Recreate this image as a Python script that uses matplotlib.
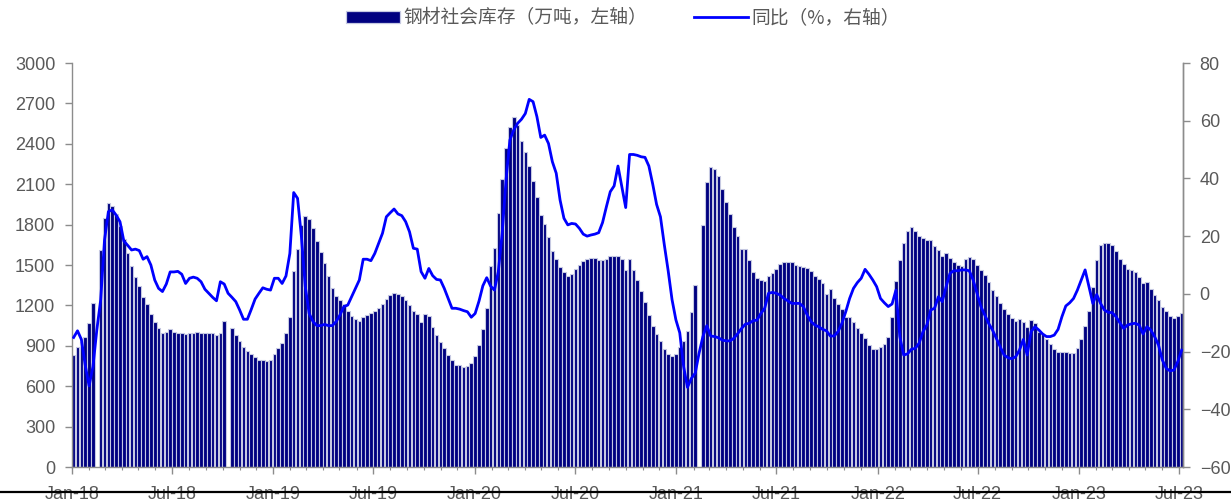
import matplotlib
matplotlib.use("Agg")
import matplotlib.pyplot as plt
import matplotlib.dates as mdates
from matplotlib.patches import Rectangle
from matplotlib.lines import Line2D
import numpy as np
import pandas as pd

# ---------------- data (weekly, None = no release that week) ----------------
start_date = "2018-01-04"

inv_2018 = [832, 889, 930, 968, 1072, 1215, None, 1611, 1846, 1958,
            1940, 1880, 1790, 1690, 1591, 1495, 1413, 1344, 1265, 1208,
            1134, 1074, 1035, 997, 1005, 1022, 1005, 997, 997, 985,
            997, 997, 1005, 997, 992, 997, 997, 980, 997, 1082,
            None, 1030, 978, 936, 889, 861, 839, 819, 794, 794,
            787, 794]
inv_2019 = [837, 881, 923, 992, 1116, 1458, 1616, 1797, 1864, 1844,
            1777, 1678, 1596, 1512, 1418, 1329, 1270, 1240, 1208, 1161,
            1121, 1101, 1087, 1116, 1131, 1141, 1161, 1181, 1210, 1247,
            1277, 1294, 1282, 1272, 1242, 1205, 1156, 1136, 1079, 1136,
            1121, 1042, 983, 931, 886, 832, 794, 760, 755, 745,
            750, 770]
inv_2020 = [824, 903, 1022, 1181, 1495, 1629, 1888, 2141, 2371, 2522,
            2596, 2539, 2423, 2341, 2235, 2121, 2007, 1871, 1804, 1705,
            1604, 1544, 1485, 1445, 1421, 1431, 1473, 1502, 1530, 1547,
            1554, 1554, 1537, 1535, 1544, 1564, 1567, 1564, 1544, 1463,
            1544, 1463, 1388, 1309, 1225, 1126, 1049, 988, 936, 879,
            842, 827, 837]
inv_2021 = [893, 938, 1012, 1151, 1354, None, 1799, 2114, 2225, 2215,
            2161, 2064, 1965, 1879, 1780, 1718, 1621, 1616, 1535, 1450,
            1403, 1388, 1379, 1418, 1443, 1473, 1507, 1522, 1522, 1522,
            1502, 1492, 1485, 1478, 1453, 1421, 1396, 1366, 1282, 1324,
            1252, 1210, 1171, 1116, 1111, 1074, 1035, 992, 960, 906,
            874, 874]
inv_2022 = [889, 913, 968, 1111, 1383, 1535, 1666, 1750, 1780, 1755,
            1718, 1700, 1683, 1683, 1643, 1614, 1567, 1586, 1552, 1520,
            1502, 1495, 1542, 1562, 1542, 1502, 1460, 1426, 1374, 1317,
            1267, 1220, 1171, 1134, 1109, 1082, 1101, 1079, 1037, 1092,
            1072, 1002, 988, 950, 916, 879, 851, 851, 854, 846,
            846, 884]
inv_2023 = [953, 1049, 1161, 1334, 1537, 1646, 1663, 1661, 1646, 1604,
            1547, 1507, 1473, 1465, 1445, 1413, 1366, 1374, 1324, 1277,
            1242, 1186, 1158, 1124, 1109, 1124, 1146]

yoy_2018 = [-15.1, -12.8, -15.8, -24.7, -31.9, -25.2, -12.5, -2.1, 18.7, 28.5,
            29.1, 27.3, 25.0, 18.3, 16.8, 15.2, 15.5, 15.0, 12.0, 12.9,
            10.0, 4.8, 1.9, 0.8, 3.4, 7.6, 7.6, 7.8, 6.8, 3.6,
            5.4, 5.8, 5.4, 4.2, 1.6, 0.2, -1.2, -2.4, 4.2, 3.4,
            0.2, -1.2, -2.7, -5.6, -8.8, -8.8, -5.4, -1.8, 0.2, 2.1,
            1.6, 1.3]
yoy_2019 = [5.4, 5.4, 3.6, 6.2, 14.0, 35.1, 33.1, 19.8, 2.5, -6.8,
            -9.6, -11.0, -11.0, -10.6, -11.0, -11.0, -9.6, -7.3, -4.4, -3.9,
            -1.0, 1.9, 4.8, 12.0, 12.0, 11.5, 14.0, 17.5, 21.0, 26.7,
            28.1, 29.4, 27.7, 27.1, 25.0, 21.5, 15.8, 15.5, 7.7, 5.4,
            8.8, 6.3, 5.0, 4.8, 1.9, -1.6, -5.0, -5.0, -5.3, -5.8,
            -6.2, -8.1]
yoy_2020 = [-6.8, -2.5, 2.8, 5.6, 2.7, 1.3, 7.7, 21.0, 39.4, 53.3,
            56.8, 59.1, 60.5, 62.5, 67.4, 66.6, 61.4, 54.2, 55.0, 52.1,
            45.8, 41.8, 32.5, 26.2, 23.9, 24.4, 24.2, 22.7, 20.7, 20.0,
            20.4, 20.7, 21.2, 24.7, 30.2, 35.4, 37.4, 44.3, 37.1, 29.9,
            48.3, 48.3, 48.0, 47.5, 47.3, 44.3, 38.0, 31.0, 26.7, 17.0,
            8.0, -2.0, -9.0]
yoy_2021 = [-13.5, -25.2, -32.4, -29.3, -27.5, -20.6, -14.8, -11.0, -14.6, -14.8,
            -15.2, -16.0, -16.3, -16.3, -15.4, -13.8, -12.0, -10.5, -10.2, -9.3,
            -9.1, -6.8, -5.0, 0.2, 0.5, 0.2, -0.4, -1.6, -2.4, -3.3,
            -3.3, -3.3, -4.4, -7.3, -9.6, -10.8, -11.4, -12.3, -12.8, -14.6,
            -14.6, -13.1, -10.2, -6.2, -1.6, 1.9, 3.9, 5.4, 8.5, 6.8,
            4.8, 2.5]
yoy_2022 = [-1.6, -3.1, -4.4, -3.5, 1.3, -14.8, -21.2, -20.8, -19.2, -18.9,
            -17.1, -13.1, -10.8, -5.6, -5.0, -1.0, -2.7, 2.5, 7.1, 8.0,
            8.0, 8.3, 8.3, 8.0, 4.8, 0.2, -4.4, -7.3, -10.2, -12.5,
            -15.4, -18.3, -21.2, -22.1, -22.5, -21.8, -19.5, -15.8, -21.2, -13.1,
            -11.4, -12.5, -13.9, -14.8, -14.8, -14.3, -12.3, -7.9, -4.2, -3.1,
            -1.6, 1.3]
yoy_2023 = [4.8, 8.3, 2.5, -3.3, -0.2, -3.3, -5.6, -6.4, -6.5, -7.9,
            -10.0, -12.0, -10.8, -10.4, -10.2, -10.8, -13.9, -11.4, -12.5, -14.8,
            -17.7, -22.9, -25.8, -26.7, -26.4, -23.5, -19.5]

left_ticks = [0, 300, 600, 900, 1200, 1500, 1800, 2100, 2400, 2700, 3000]
right_ticks = [-60, -40, -20, 0, 20, 40, 60, 80]
label_inv = "钢材社会库存（万吨，左轴）"
label_yoy = "同比（%，右轴）"

# ---------------- assemble ----------------
inventory = np.array([np.nan if v is None else v for v in
                      inv_2018 + inv_2019 + inv_2020 + inv_2021 + inv_2022 + inv_2023], dtype=float)
yoy = np.array(yoy_2018 + yoy_2019 + yoy_2020 + yoy_2021 + yoy_2022 + yoy_2023, dtype=float)
dates = pd.date_range(start=start_date, periods=len(inventory), freq="7D")

# ---------------- figure ----------------
plt.rcParams['font.family'] = ['Liberation Sans', 'DejaVu Sans']
TXT = '#595959'
AX = '#8c8c8c'
NAVY = '#000080'
EDGE = '#c6c9e2'
BLUE = '#0000ff'

fig = plt.figure(figsize=(12.31, 5.01), dpi=100)
ax = fig.add_axes([72 / 1231, 1 - 467 / 501, (1183 - 72) / 1231, (467 - 63) / 501])
ax2 = ax.twinx()

mask = ~np.isnan(inventory)
ax.bar(dates[mask], inventory[mask], width=6.5, color=NAVY,
       edgecolor=EDGE, linewidth=0.8, zorder=2)
ax2.plot(dates, yoy, color=BLUE, linewidth=2.0, zorder=3)

x0 = pd.Timestamp("2018-01-01")
ax.set_xlim(x0, x0 + pd.Timedelta(days=2014.5))
ax.set_ylim(0, 3000)
ax2.set_ylim(-60, 80)
ax.set_yticks(left_ticks)
ax2.set_yticks(right_ticks)

ax.xaxis.set_major_locator(mdates.MonthLocator(bymonth=[1, 7]))
ax.xaxis.set_major_formatter(mdates.DateFormatter('%b-%y'))
ax.xaxis.set_minor_locator(mdates.MonthLocator())

for a in (ax, ax2):
    for s in a.spines.values():
        s.set_color(AX)
        s.set_linewidth(1.0)
    a.spines['top'].set_visible(False)

ax.tick_params(axis='y', which='major', direction='out', length=5, width=1,
               color=AX, labelcolor=TXT, labelsize=13, pad=7)
ax2.tick_params(axis='y', which='major', direction='out', length=5, width=1,
                color=AX, labelcolor=TXT, labelsize=13, pad=7)
ax.tick_params(axis='x', which='major', direction='out', length=5, width=1,
               color=AX, labelcolor=TXT, labelsize=13, pad=9)
ax.tick_params(axis='x', which='minor', direction='out', length=2, width=0.8, color=AX)
ax2.spines['left'].set_visible(False)
ax2.spines['bottom'].set_visible(False)

# legend
h1 = Rectangle((0, 0), 1, 1, facecolor=NAVY, edgecolor=EDGE, linewidth=0.9)
h2 = Line2D([0], [0], color=BLUE, linewidth=2.0)
leg = fig.legend([h1, h2], [label_inv, label_yoy], loc='center',
                 bbox_to_anchor=(623 / 1231, 1 - 18 / 501), ncol=2, frameon=False,
                 handlelength=2.85, handleheight=0.55, handletextpad=0.2, columnspacing=2.5,
                 prop={'family': ['Noto Sans CJK SC', 'DejaVu Sans'], 'size': 13.5})
for t in leg.get_texts():
    t.set_color(TXT)

# black rule across the bottom
fig.add_artist(Line2D([0, 1], [1 - 492 / 501, 1 - 492 / 501], transform=fig.transFigure,
                      color='black', linewidth=1.6))

fig.savefig("out.png", dpi=100)
